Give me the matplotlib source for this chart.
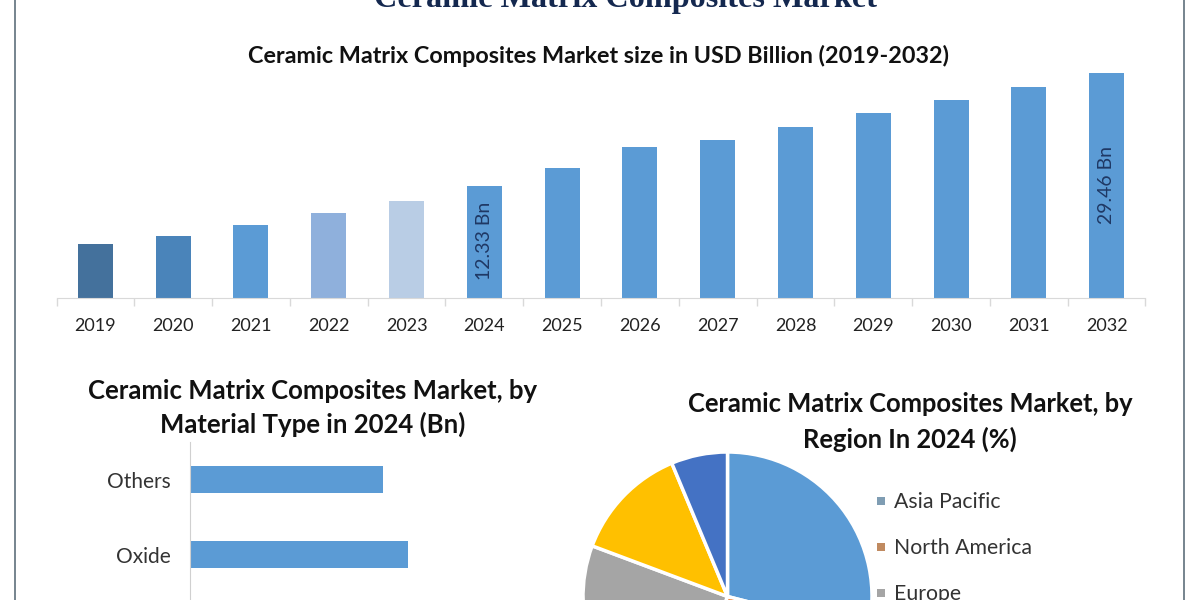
import matplotlib
matplotlib.use("Agg")
import matplotlib.pyplot as plt
from matplotlib.lines import Line2D
from matplotlib.patches import Rectangle

W, H = 1200, 600

# market size, USD Bn (only 2024 and 2032 are labelled)
years = [2019, 2020, 2021, 2022, 2023, 2024, 2025, 2026, 2027, 2028, 2029, 2030, 2031, 2032]
market_size = [3.42, 4.64, 6.32, 8.15, 9.97, 12.33, 15.0, 18.2, 19.26, 21.32, 23.37, 25.35, 27.41, 29.46]
axis_floor = -4.8  # the baseline of the picture is not at zero

material_types = ["Oxide", "Others"]
material_values = [3.5, 3.1]

regions = ["Asia Pacific", "North America", "Europe", "Middle East and Africa", "South America"]
region_share = [29, 27, 24.7, 13, 6.3]

BLUE = "#5B9BD5"
bar_colors = ["#44719C", "#4A84BA", BLUE, "#8FB0DC", "#B9CDE5"] + [BLUE] * 9
pie_colors = [BLUE, "#ED7D31", "#A5A5A5", "#FFC000", "#4472C4"]
legend_colors = ["#7F9DB3", "#C08A60", "#A5A5A5"]

plt.rcParams["font.family"] = ["Lato", "DejaVu Sans"]


def px_axes(fig, left, top, right, bottom):
    # axes from pixel box, y counted from the top of the image
    return fig.add_axes([left / W, 1 - bottom / H, (right - left) / W, (bottom - top) / H])


def px_text(fig, x, y, s, **kw):
    return fig.text(x / W, 1 - y / H, s, **kw)


fig = plt.figure(figsize=(W / 100, H / 100), dpi=100, facecolor="white")

# side rules of the frame
for x in (15, 1184):
    fig.add_artist(Line2D([x / W, x / W], [0, 1], color="#5F6F7C", lw=1.2))

px_text(fig, 626, 7, "Ceramic Matrix Composites Market", family="Liberation Serif",
        weight="bold", fontsize=23.2, color="#14284F", ha="center", va="baseline")
px_text(fig, 599, 56, "Ceramic Matrix Composites Market size in USD Billion (2019-2032)",
        weight="bold", fontsize=16.8, color="#111111", ha="center", va="center")
px_text(fig, 313, 408, "Ceramic Matrix Composites Market, by\nMaterial Type in 2024 (Bn)",
        weight="bold", fontsize=18.5, color="#111111", ha="center", va="center", linespacing=1.42)
px_text(fig, 910, 422, "Ceramic Matrix Composites Market, by\nRegion In 2024 (%)",
        weight="bold", fontsize=18.4, color="#111111", ha="center", va="center", linespacing=1.5)

# yearly bars
ax = px_axes(fig, 56.5, 60, 1145.5, 298)
pos = list(range(len(years)))
ax.bar(pos, [v - axis_floor for v in market_size], bottom=axis_floor, width=0.45, color=bar_colors)
ax.set_xlim(-0.5, len(years) - 0.5)
ax.set_ylim(axis_floor, 31.5)
ax.set_yticks([])
ax.set_xticks([p - 0.5 for p in pos] + [pos[-1] + 0.5])
ax.set_xticklabels([])
ax.set_xticks(pos, minor=True)
ax.set_xticklabels(years, minor=True, fontsize=13, color="#222222")
ax.tick_params(axis="x", which="major", length=6, color="#D9D9D9", width=1)
ax.tick_params(axis="x", which="minor", length=0, pad=14.5)
for side in ("top", "left", "right"):
    ax.spines[side].set_visible(False)
ax.spines["bottom"].set_color("#D9D9D9")

px_text(fig, 484, 241, "12.33 Bn", rotation=90, fontsize=14, color="#1F3864", ha="center", va="center")
px_text(fig, 1106, 185, "29.46 Bn", rotation=90, fontsize=14, color="#1F3864", ha="center", va="center")

# material type bars, cut off by the image edge
ax2 = px_axes(fig, 190, 442, 520, 600)
ax2.barh(range(len(material_types)), material_values, height=0.36, color=BLUE)
ax2.set_xlim(0, 5.3)
ax2.set_ylim(-0.6, 1.5)
ax2.set_xticks([])
ax2.set_yticks(range(len(material_types)))
ax2.set_yticklabels(material_types, fontsize=15, color="#333333")
ax2.tick_params(axis="y", length=0, pad=14)
for side in ("top", "bottom", "right"):
    ax2.spines[side].set_visible(False)
ax2.spines["left"].set_color("#D0D0D0")

# region pie, its lower half falls outside the image
ax3 = px_axes(fig, 583, 452, 872, 741)
ax3.pie(region_share, colors=pie_colors, startangle=90, counterclock=False, radius=1,
        wedgeprops={"edgecolor": "white", "linewidth": 2.5})
ax3.set_xlim(-1, 1)
ax3.set_ylim(-1, 1)

# legend, only the first three entries are in view
for i, (name, col) in enumerate(zip(regions[:3], legend_colors)):
    y = 501 + i * 46
    fig.add_artist(Rectangle((877 / W, 1 - (y + 4) / H), 8 / W, 8 / H, transform=fig.transFigure,
                             facecolor=col, edgecolor="none"))
    px_text(fig, 894, y + 1, name, fontsize=15.3, color="#333333", ha="left", va="center")

fig.savefig("out.png", dpi=100)
